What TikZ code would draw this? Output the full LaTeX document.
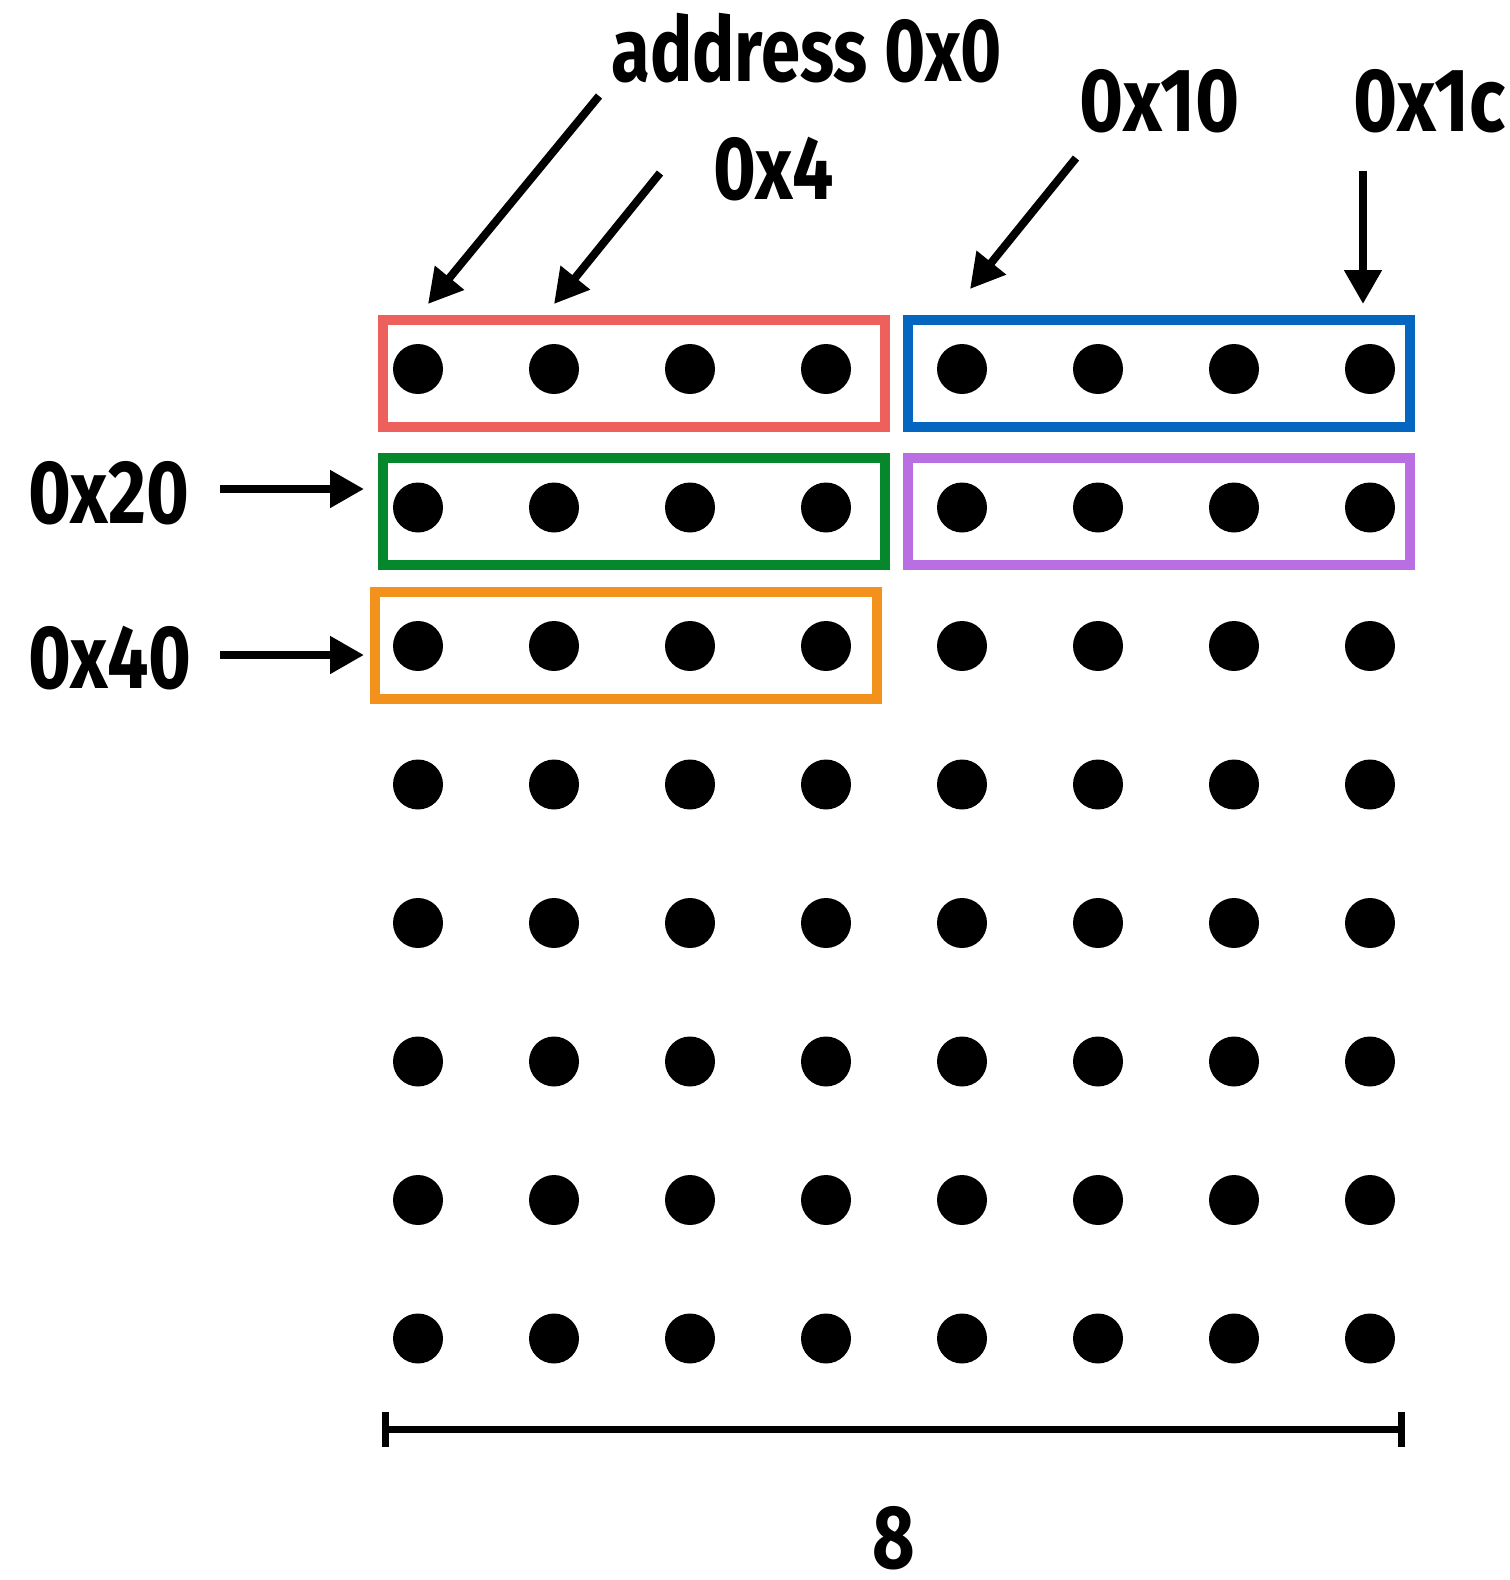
\documentclass[tikz,border=0pt]{standalone}
\usepackage{fontspec}
\newfontfamily\lblfont[FakeStretch=0.785]{Fira Sans}
\newfontfamily\numfont[FakeStretch=0.815]{Fira Sans}
\newfontfamily\widenumfont[FakeStretch=0.84]{Fira Sans}
\usetikzlibrary{arrows.meta}
\definecolor{boxred}{RGB}{238,96,91}
\definecolor{boxblue}{RGB}{5,102,192}
\definecolor{boxgreen}{RGB}{4,136,43}
\definecolor{boxpurple}{RGB}{185,110,225}
\definecolor{boxorange}{RGB}{242,146,28}
\begin{document}
\begin{tikzpicture}[x=0.5pt,y=-0.5pt,
  dot/.style={circle,fill=black,inner sep=0pt,minimum size=25pt},
  rowbox/.style={draw=#1,line width=5pt,inner sep=0pt,minimum width=251pt,minimum height=53.5pt},
  lbl/.style={inner sep=0pt,font=\lblfont\bfseries\fontsize{45pt}{50pt}\selectfont},
  num/.style={inner sep=0pt,font=\numfont\bfseries\fontsize{45pt}{50pt}\selectfont},
  widenum/.style={inner sep=0pt,font=\widenumfont\bfseries\fontsize{45pt}{50pt}\selectfont},
  ptr/.style={line width=4pt,-{Triangle[length=17pt,width=18pt]}},
  bar/.style={line width=3.6pt}]
\useasboundingbox (0,0) rectangle (1510,1580);

% grid of elements, 8 per row
\foreach \r in {1,...,8}{
  \foreach \c in {1,...,8}{
    \node[dot] (d-\r-\c) at ({418+136*(\c-1)},{369+138.5*(\r-1)}) {};
  }
}

% highlighted groups of four
\node[rowbox=boxred]    (bred)    at (633.5,373.5) {};
\node[rowbox=boxblue]   (bblue)   at (1158.5,373.5) {};
\node[rowbox=boxgreen]  (bgreen)  at (634,511.5) {};
\node[rowbox=boxpurple] (bpurple) at (1158.5,511.5) {};
\node[rowbox=boxorange] (borange) at (626.25,645.75) {};

% address labels
\node[lbl,anchor=base west]     (laddr) at (611,81)  {address 0x0};
\node[num,anchor=base west]     (l4)    at (713,199) {0x4};
\node[widenum,anchor=base west] (l10)   at (1079,131) {0x10};
\node[widenum,anchor=base west] (l1c)   at (1353,131) {0x1c};
\node[num,anchor=base west]     (l20)   at (28,523) {0x20};
\node[num,anchor=base west]     (l40)   at (28,688) {0x40};

% arrow end points
\coordinate (a0s) at (599,96);   \coordinate (a0e) at (428,304);
\coordinate (a4s) at (660,173);  \coordinate (a4e) at (554,304);
\coordinate (a10s) at (1076,158); \coordinate (a10e) at (970,289);
\coordinate (a1cs) at (1363,171); \coordinate (a1ce) at (1363,304);
\coordinate (a20s) at (220,489); \coordinate (a20e) at (364,489);
\coordinate (a40s) at (220,655); \coordinate (a40e) at (364,655);

\draw[ptr] (a0s) -- (a0e);
\draw[ptr] (a4s) -- (a4e);
\draw[ptr] (a10s) -- (a10e);
\draw[ptr] (a1cs) -- (a1ce);
\draw[ptr] (a20s) -- (a20e);
\draw[ptr] (a40s) -- (a40e);

% width scale bar
\coordinate (sl) at (385.5,1429.5);
\coordinate (sr) at (1401.7,1429.5);
\draw[bar] (sl) -- (sr);
\draw[bar] ([yshift=8.75pt]sl) -- ([yshift=-8.75pt]sl);
\draw[bar] ([yshift=8.75pt]sr) -- ([yshift=-8.75pt]sr);
\node[num,anchor=base] (lw) at (894,1568) {8};
\end{tikzpicture}
\end{document}
